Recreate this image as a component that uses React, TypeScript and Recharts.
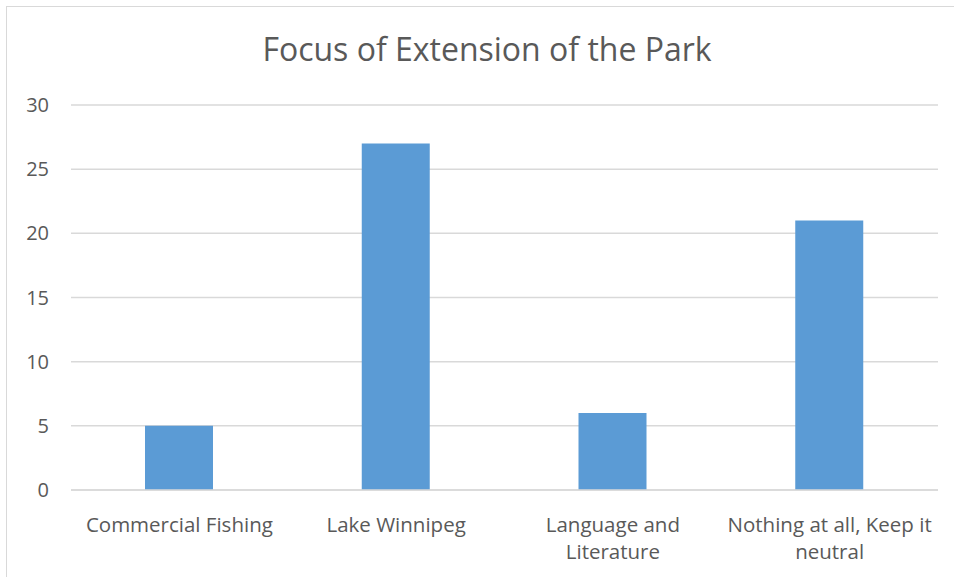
import React from "react";
import { BarChart, Bar, XAxis, YAxis, CartesianGrid } from "recharts";

const categories = [
  "Commercial Fishing",
  "Lake Winnipeg",
  "Language and Literature",
  "Nothing at all, Keep it neutral",
];
const responses = [5, 27, 6, 21];
const tickLabelLines = [
  ["Commercial Fishing"],
  ["Lake Winnipeg"],
  ["Language and", "Literature"],
  ["Nothing at all, Keep it", "neutral"],
];
const yTicks = [0, 5, 10, 15, 20, 25, 30];

const data = categories.map((name, i) => ({ name, value: responses[i] }));

const FONT = "'Open Sans', sans-serif";
const TEXT = "#595959";

function CategoryTick(props: any) {
  const { x, y, index } = props;
  const lines = tickLabelLines[index] || [String(props.payload?.value ?? "")];
  return (
    <text x={x} y={y} textAnchor="middle" fill={TEXT} fontSize={20.5} fontFamily={FONT}>
      {lines.map((line, i) => (
        <tspan key={i} x={x} dy={i === 0 ? 34 : 27}>
          {line}
        </tspan>
      ))}
    </text>
  );
}

export default function App() {
  return (
    <div
      style={{
        position: "absolute",
        left: 0,
        top: 0,
        width: 954,
        height: 577,
        overflow: "hidden",
        background: "#fff",
      }}
    >
      <div
        style={{
          position: "absolute",
          left: 6,
          top: 6,
          width: 1000,
          height: 1000,
          border: "1px solid #d9d9d9",
        }}
      />
      <div
        style={{
          position: "absolute",
          left: 0,
          top: 27,
          width: 974,
          textAlign: "center",
          fontFamily: FONT,
          fontSize: 32,
          color: TEXT,
          lineHeight: "44px",
        }}
      >
        Focus of Extension of the Park
      </div>
      <div style={{ position: "absolute", left: 0, top: 0 }}>
        <BarChart
          width={954}
          height={577}
          data={data}
          margin={{ top: 105, right: 16, bottom: 0, left: 0 }}
        >
          <CartesianGrid vertical={false} stroke="#d9d9d9" strokeWidth={1.5} />
          <XAxis
            dataKey="name"
            height={87}
            axisLine={{ stroke: "#d9d9d9", strokeWidth: 1.5 }}
            tickLine={false}
            interval={0}
            tick={<CategoryTick />}
          />
          <YAxis
            width={71}
            domain={[0, 30]}
            ticks={yTicks}
            axisLine={false}
            tickLine={false}
            tickMargin={16}
            tick={{ fill: TEXT, fontSize: 20, fontFamily: FONT }}
          />
          <Bar dataKey="value" fill="#5b9bd5" barSize={68} isAnimationActive={false} />
        </BarChart>
      </div>
    </div>
  );
}
